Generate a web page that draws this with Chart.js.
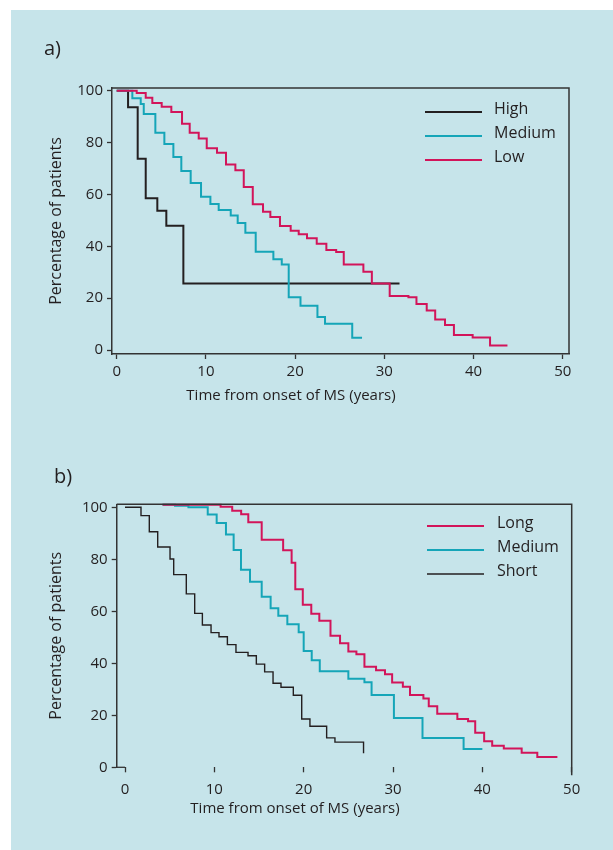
<!DOCTYPE html>
<html>
<head>
<meta charset="utf-8">
<script src="https://cdn.jsdelivr.net/npm/chart.js@4.4.1/dist/chart.umd.min.js"></script>
<style>
  html, body { margin: 0; padding: 0; background: #fff; }
  body { width: 613px; height: 850px; position: relative; overflow: hidden; font-family: "Open Sans", sans-serif; color: #231f20; }
  #panel { position: absolute; left: 11px; top: 10px; right: 0; bottom: 0; background: #c6e4ea; }
  canvas { position: absolute; left: 0; }
  .lbl { position: absolute; white-space: nowrap; }
</style>
</head>
<body>
<div id="panel"></div>
<canvas id="chart-a" width="613" height="425" style="top:0"></canvas>
<canvas id="chart-b" width="613" height="425" style="top:425px"></canvas>
<div class="lbl" style="left:44px;top:36px;font-size:20px;line-height:24px">a)</div>
<div class="lbl" style="left:54px;top:464px;font-size:20px;line-height:24px">b)</div>
<div class="lbl" style="left:181px;top:384px;font-size:15px;line-height:20px;width:220px;text-align:center">Time from onset of MS (years)</div>
<div class="lbl" style="left:185px;top:797px;font-size:15px;line-height:20px;width:220px;text-align:center">Time from onset of MS (years)</div>
<script>
// a) Kaplan-Meier por grupo (tiempo en años, % de pacientes)
const highTimes = [0, 1.27, 2.35, 3.25, 4.55, 5.56, 7.47, 31.7];
const highPct   = [100, 93.6, 73.8, 58.5, 53.7, 47.9, 25.6, 25.6];

const medATimes = [0, 1.75, 2.69, 3.03, 4.33, 5.34, 6.35, 7.24, 8.29, 9.45, 10.5, 11.43, 12.78, 13.56, 14.42, 15.58, 17.56, 18.5, 19.28, 20.6, 22.5, 23.35, 26.4, 27.5];
const medAPct   = [100, 97.1, 94.9, 91, 83.8, 79.4, 74.4, 69, 64.4, 59.1, 56.3, 54, 51.9, 49, 45.2, 37.9, 35, 33, 20.3, 17.1, 12.7, 10.1, 4.7, 4.7];

const lowTimes = [0, 2.24, 3.25, 3.99, 5.04, 6.12, 7.32, 8.18, 9.19, 10.09, 11.24, 12.25, 13.3, 14.24, 15.25, 16.4, 17.22, 18.3, 19.5, 20.4, 21.33, 22.42, 23.5, 24.6, 25.45, 27.65, 28.6, 30.6, 32.7, 33.6, 34.75, 35.7, 36.8, 37.8, 39.9, 41.85, 43.8];
const lowPct   = [100, 99.1, 97.3, 95.3, 93.8, 91.8, 87.3, 83.8, 81.6, 77.8, 76.1, 71.5, 69.3, 62.9, 56.2, 53.3, 51.3, 47.8, 46, 44.6, 43.1, 41, 38.6, 37.8, 33, 30.2, 25.6, 20.8, 20.3, 17.7, 15.2, 11.8, 9.6, 5.8, 4.8, 1.7, 1.7];

// b)
const longTimes = [4.2, 10.7, 12.0, 13.0, 13.8, 15.3, 17.7, 18.65, 19.06, 19.9, 20.85, 21.75, 23.0, 24.07, 25.0, 25.9, 26.8, 28.1, 29.1, 29.9, 31.1, 31.9, 33.4, 34.0, 34.95, 37.2, 38.4, 39.2, 40.2, 41.1, 42.4, 44.4, 46.15, 48.4];
const longPct   = [101, 100.2, 98.7, 97.3, 94.2, 87.5, 83.5, 78.7, 68.5, 62.5, 59.1, 56.4, 50.6, 47.7, 44.5, 43.5, 38.7, 37.3, 35.8, 32.6, 31, 27.8, 26.5, 23.5, 20.6, 18.6, 17.7, 13.3, 10, 8.3, 7.2, 5.6, 4, 4];

const medBTimes = [4.2, 5.6, 7.1, 9.26, 10.26, 11.3, 12.16, 12.98, 13.99, 15.3, 16.3, 17.16, 18.17, 19.44, 20.0, 20.9, 21.8, 25.0, 26.8, 27.6, 30.1, 33.3, 37.9, 40.0];
const medBPct   = [101, 100.6, 100, 97.2, 94, 89.5, 83.6, 76, 71.4, 65.6, 61.2, 58.3, 55, 51.9, 44.7, 41.2, 36.9, 34.1, 32.7, 27.8, 19, 11.3, 7, 7];

const shortTimes = [0, 1.79, 2.72, 3.66, 5.04, 5.45, 6.86, 7.8, 8.66, 9.63, 10.52, 11.46, 12.42, 13.77, 14.7, 15.63, 16.57, 17.46, 18.84, 19.78, 20.7, 22.57, 23.5, 26.7];
const shortPct   = [100, 96.8, 90.6, 84.7, 80.1, 74.1, 66.7, 59.2, 54.7, 51.8, 50.2, 47.2, 44.2, 42.9, 39.7, 36.7, 32.3, 30.8, 27.7, 18.6, 15.8, 11.3, 9.7, 5.4];

const xTicks = [0, 10, 20, 30, 40, 50];
const yTicks = [0, 20, 40, 60, 80, 100];

const INK = '#231f20';
const RED = '#d2145a';
const TEAL = '#15a5b8';

Chart.defaults.font.family = '"Open Sans", sans-serif';
Chart.defaults.color = INK;

function puntos(ts, vs) {
  return ts.map((t, i) => ({ x: t, y: vs[i] }));
}

function serie(label, ts, vs, color, width, orden) {
  return {
    label: label,
    data: puntos(ts, vs),
    borderColor: color,
    borderWidth: width,
    stepped: 'before',
    pointRadius: 0,
    fill: false,
    clip: 4,
    order: orden
  };
}

// leyenda dentro del gráfico
const inlineLegend = {
  id: 'inlineLegend',
  afterDatasetsDraw(chart, args, opts) {
    const ctx = chart.ctx;
    ctx.save();
    ctx.font = '16px "Open Sans", sans-serif';
    ctx.textBaseline = 'middle';
    ctx.fillStyle = INK;
    chart.data.datasets.forEach((ds, i) => {
      const y = opts.y + i * opts.gap;
      ctx.strokeStyle = ds.borderColor;
      ctx.lineWidth = ds.borderWidth;
      ctx.beginPath();
      ctx.moveTo(opts.x1, y);
      ctx.lineTo(opts.x2, y);
      ctx.stroke();
      ctx.fillText(ds.label, opts.tx, y - 3);
    });
    ctx.restore();
  }
};

// marco superior y derecho (y el trocito de eje en b)
const marco = {
  id: 'marco',
  afterDraw(chart, args, opts) {
    const { left, right, top, bottom } = chart.chartArea;
    const ctx = chart.ctx;
    ctx.save();
    ctx.strokeStyle = '#333';
    ctx.lineWidth = 1.5;
    ctx.beginPath();
    ctx.moveTo(left, top);
    ctx.lineTo(right, top);
    ctx.lineTo(right, bottom + opts.extra);
    ctx.stroke();
    if (opts.stub) {
      ctx.lineWidth = 1.3;
      ctx.beginPath();
      ctx.moveTo(left, bottom);
      ctx.lineTo(chart.scales.x.getPixelForValue(0), bottom);
      ctx.stroke();
    }
    ctx.restore();
  }
};

function soloTicks(lista) {
  return function(scale) {
    scale.ticks = lista.map(v => ({ value: v }));
  };
}

function opciones(cfg) {
  return {
    responsive: false,
    animation: false,
    layout: { padding: cfg.padding },
    plugins: {
      legend: { display: false },
      tooltip: { enabled: false },
      inlineLegend: cfg.legend,
      marco: { extra: cfg.extra, stub: cfg.stub }
    },
    scales: {
      x: {
        type: 'linear',
        min: cfg.xmin, max: cfg.xmax,
        afterBuildTicks: soloTicks(xTicks),
        afterFit: s => { s.height = cfg.xh; },
        border: { display: cfg.xBorder, color: '#333', width: 1.5 },
        grid: { drawOnChartArea: false, drawTicks: true, tickLength: 5, tickColor: '#333', tickWidth: 1.3 },
        ticks: { font: { size: 15 }, padding: cfg.xpad, maxRotation: 0 }
      },
      y: {
        min: cfg.ymin, max: cfg.ymax,
        afterBuildTicks: soloTicks(yTicks),
        afterFit: s => { s.width = cfg.yw; },
        border: { display: true, color: '#333', width: 1.5 },
        grid: { drawOnChartArea: false, drawTicks: true, tickLength: 5, tickColor: '#333', tickWidth: 1.3 },
        ticks: { font: { size: 15 }, padding: 4 },
        title: { display: true, text: 'Percentage of patients', font: { size: 16 }, padding: { top: 7, bottom: 0 } }
      }
    }
  };
}

new Chart(document.getElementById('chart-a'), {
  type: 'line',
  data: {
    datasets: [
      serie('High', highTimes, highPct, INK, 2, 3),
      serie('Medium', medATimes, medAPct, TEAL, 2, 2),
      serie('Low', lowTimes, lowPct, RED, 2, 1)
    ]
  },
  options: opciones({
    padding: { left: 40, top: 88, right: 44, bottom: 0 },
    xmin: -0.53, xmax: 50.7, ymin: -1.54, ymax: 101.04,
    xh: 71, yw: 72, xpad: 4, xBorder: true, extra: 0, stub: false,
    legend: { x1: 425, x2: 482, tx: 494, y: 112, gap: 24 }
  }),
  plugins: [inlineLegend, marco]
});

new Chart(document.getElementById('chart-b'), {
  type: 'line',
  data: {
    datasets: [
      serie('Long', longTimes, longPct, RED, 2, 1),
      serie('Medium', medBTimes, medBPct, TEAL, 2, 2),
      serie('Short', shortTimes, shortPct, INK, 1.4, 3)
    ]
  },
  options: opciones({
    padding: { left: 40, top: 79.3, right: 41.3, bottom: 0 },
    xmin: -0.93, xmax: 50, ymin: 0, ymax: 101.15,
    xh: 82.7, yw: 76.7, xpad: 8, xBorder: false, extra: 8, stub: true,
    legend: { x1: 427, x2: 484, tx: 497, y: 101, gap: 24 }
  }),
  plugins: [inlineLegend, marco]
});
</script>
</body>
</html>
